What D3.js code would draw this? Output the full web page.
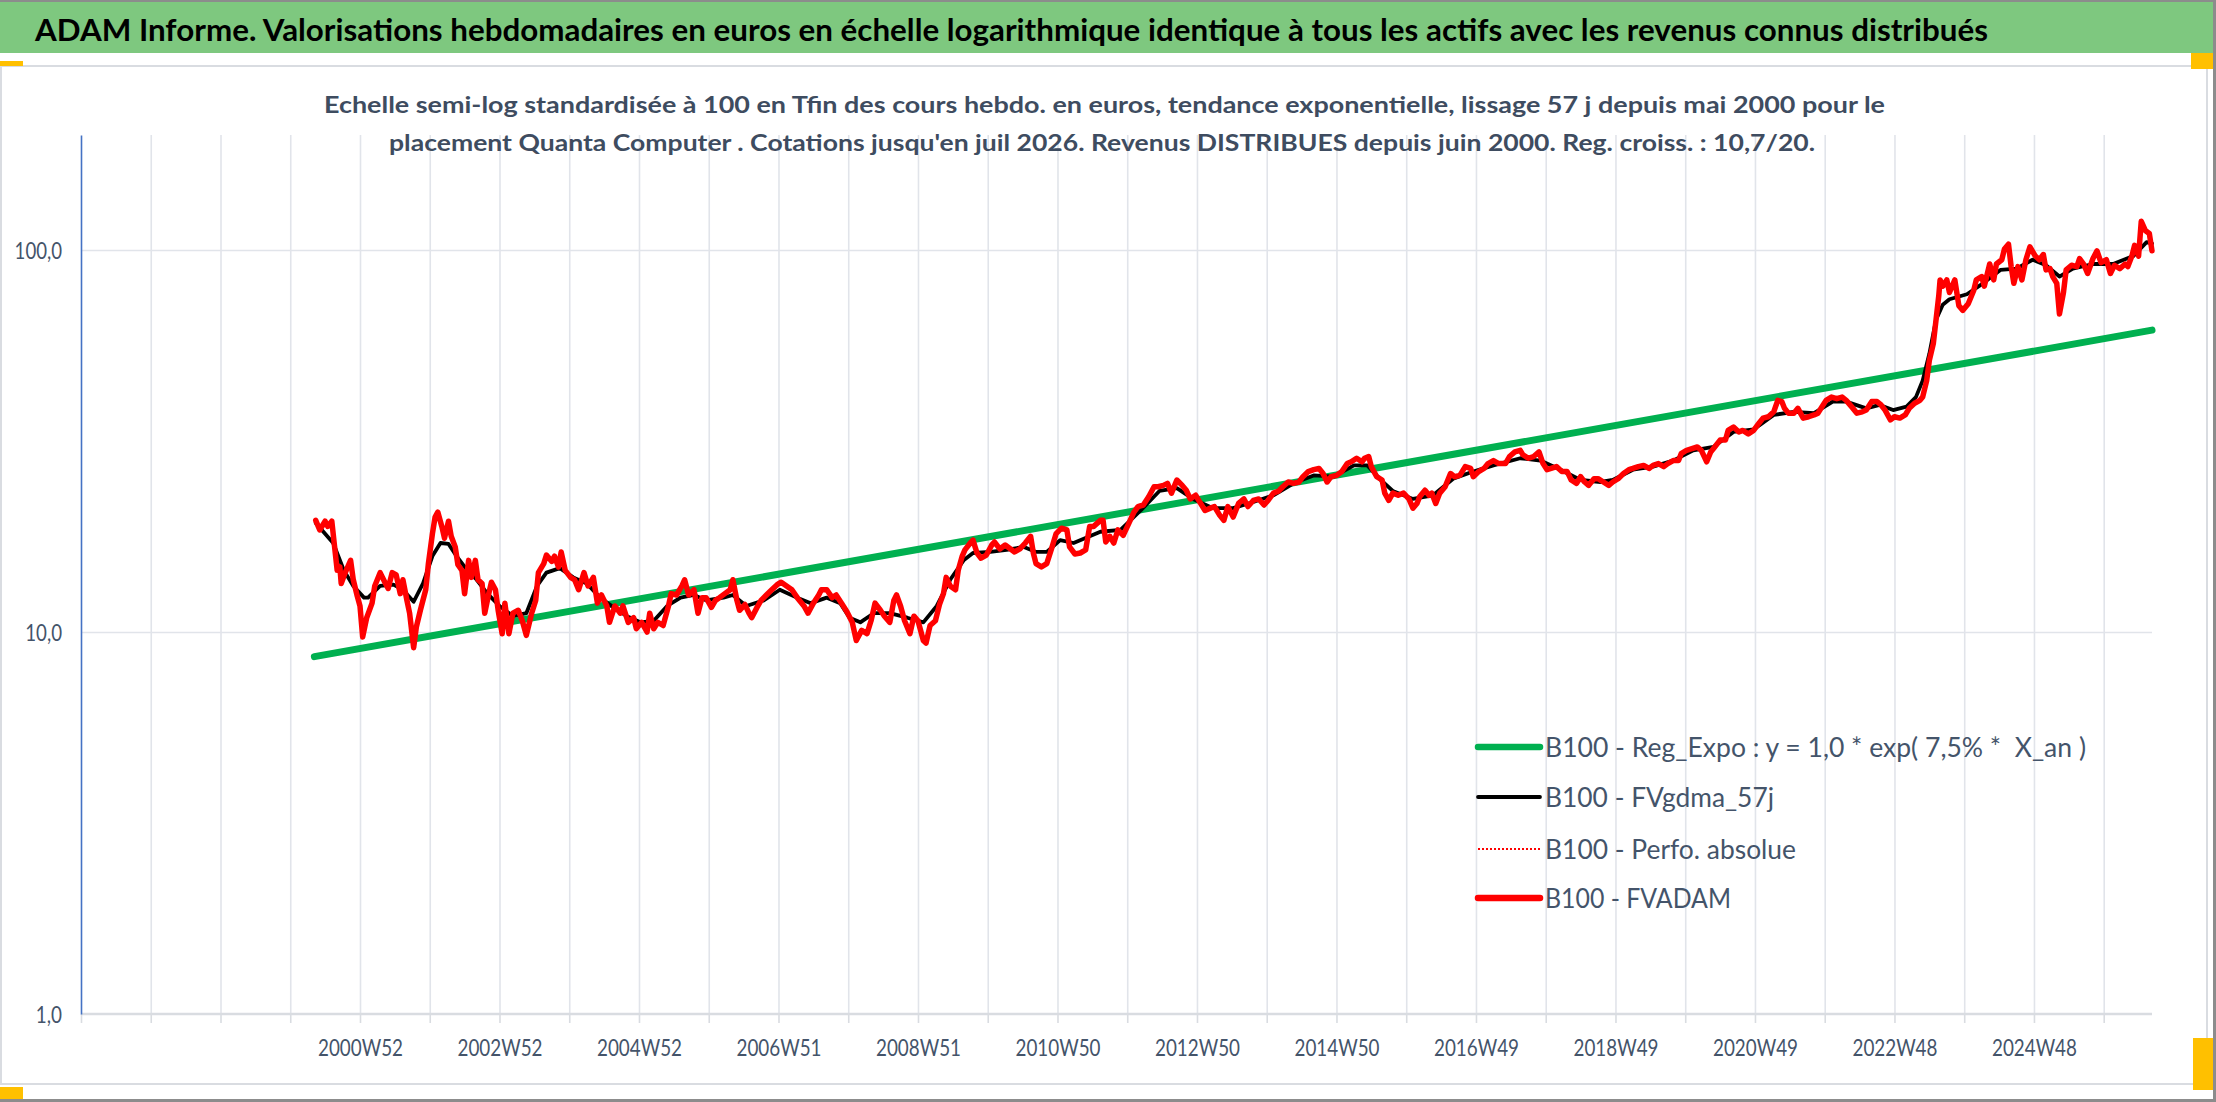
<!DOCTYPE html>
<html><head><meta charset="utf-8">
<script src="https://cdn.jsdelivr.net/npm/d3@7"></script>
<style>
html,body{margin:0;padding:0;background:#fff;}
svg{display:block;}
text{white-space:pre;}
</style></head><body>
<svg id="c" width="2216" height="1102"></svg>
<script>
// ---------------- DATA ----------------
const titleText = "ADAM Informe. Valorisations hebdomadaires en euros en échelle logarithmique identique à tous les actifs avec les revenus connus distribués";
const subtitleLines = [
  "Echelle semi-log standardisée à 100 en Tfin des cours hebdo. en euros, tendance exponentielle, lissage 57 j depuis mai 2000 pour le",
  "placement Quanta Computer . Cotations jusqu'en juil 2026. Revenus DISTRIBUES depuis juin 2000. Reg. croiss. : 10,7/20."
];
const seriesNames = [
  "B100 - Reg_Expo : y = 1,0 * exp( 7,5% *  X_an )",
  "B100 - FVgdma_57j",
  "B100 - Perfo. absolue",
  "B100 - FVADAM"
];
// weekly categories (index 0 = first category of the axis, ~1996W52)
const weekCount = 1544;
const weeksPerTick = 52;
const xTickLabels = ["2000W52","2002W52","2004W52","2006W51","2008W51","2010W50","2012W50","2014W50","2016W49","2018W49","2020W49","2022W48","2024W48"];
const xFirstLabelWeek = 208;
const xLabelStepWeeks = 104;
const yTickValues = [1, 10, 100];
const yTickLabels = ["1,0", "10,0", "100,0"];

// [week index, value]
const regExpo = [[174, 8.62], [1544, 61.7]];

const fvgdma = [[175,19.3],[188,17.1],[196,14.5],[203,13.2],[211,12.3],[214,12.3],[223,13.2],[233,13.3],[240,12.9],[248,12.0],[255,13.4],[262,15.8],[268,17.1],[274,17.0],[280,15.8],[288,14.5],[295,13.7],[303,12.6],[312,11.7],[322,11.0],[332,11.2],[340,13.2],[347,14.3],[357,14.7],[367,13.9],[377,13.4],[387,12.3],[397,11.6],[407,11.0],[417,10.6],[427,10.7],[437,11.7],[447,12.3],[457,12.5],[466,12.1],[479,12.3],[486,12.5],[496,11.7],[509,12.1],[521,12.9],[534,12.3],[544,11.9],[556,12.3],[566,11.9],[573,10.9],[581,10.6],[591,11.2],[603,11.2],[616,10.9],[628,10.6],[638,11.7],[648,13.7],[658,15.4],[665,16.1],[678,16.2],[690,16.4],[703,16.7],[712,16.2],[720,16.2],[730,17.4],[740,17.1],[752,17.8],[760,18.3],[775,18.5],[790,20.8],[804,23.4],[817,23.8],[829,22.3],[844,21.1],[859,21.1],[874,21.9],[889,22.8],[904,24.5],[919,25.7],[934,25.5],[949,27.3],[959,27.3],[969,25.0],[978,23.4],[993,22.3],[1008,22.8],[1023,25.2],[1038,26.3],[1053,27.3],[1073,28.5],[1088,28.1],[1103,26.6],[1118,25.0],[1133,24.7],[1142,25.0],[1157,26.6],[1172,27.1],[1187,28.1],[1202,29.9],[1217,30.5],[1232,33.4],[1247,33.9],[1262,37.0],[1277,37.7],[1292,37.4],[1306,40.1],[1316,40.1],[1331,38.5],[1341,39.3],[1351,38.1],[1361,38.9],[1368,41.2],[1373,45.5],[1378,53.5],[1383,65.7],[1388,71.9],[1393,74.3],[1406,76.6],[1418,81.8],[1431,88.7],[1443,89.4],[1455,94.3],[1465,91.2],[1475,85.2],[1485,89.4],[1500,91.9],[1515,91.9],[1530,96.4],[1540,104.9],[1544,104.0]];

const fvadam = [[175,19.6],[178,18.5],[182,19.5],[184,18.9],[187,19.5],[189,16.8],[191,14.5],[193,14.8],[194,13.4],[197,14.3],[201,15.4],[203,13.7],[206,12.4],[208,11.7],[210,9.7],[213,10.9],[217,11.9],[219,13.2],[223,14.3],[227,13.4],[229,13.0],[232,14.3],[235,14.1],[238,12.6],[240,13.7],[243,12.1],[245,11.2],[248,9.1],[250,10.3],[253,11.4],[257,12.9],[259,15.1],[262,18.1],[264,20.0],[266,20.6],[269,18.9],[271,17.6],[274,19.5],[276,17.8],[279,16.7],[281,15.0],[284,14.5],[286,12.6],[289,15.4],[291,13.9],[294,15.4],[296,13.7],[299,13.4],[301,11.2],[304,12.6],[306,13.5],[309,12.9],[311,11.4],[314,9.9],[316,11.9],[319,9.9],[322,11.2],[326,11.4],[329,10.7],[332,9.8],[336,11.2],[339,12.1],[341,14.3],[345,15.1],[347,15.9],[351,15.3],[353,15.8],[356,14.8],[358,16.2],[361,14.5],[365,13.9],[368,13.7],[371,12.9],[375,14.3],[378,13.2],[382,13.9],[385,11.9],[388,12.5],[392,11.7],[394,10.6],[398,11.7],[402,11.2],[404,11.7],[408,10.6],[412,10.9],[414,10.2],[418,10.6],[422,10.0],[424,11.2],[427,10.2],[430,10.6],[434,10.4],[438,11.7],[440,12.6],[444,12.5],[448,13.2],[450,13.7],[453,12.5],[457,12.9],[460,11.2],
[463,12.3],[466,12.3],[470,11.6],[473,12.1],[476,12.3],[480,12.6],[484,12.9],[486,13.7],[489,12.1],[491,11.4],[495,11.8],[498,11.2],[500,10.9],[504,11.6],[507,12.1],[511,12.5],[515,12.9],[519,13.3],[522,13.5],[526,13.2],[530,12.9],[534,12.3],[539,11.7],[542,11.2],[546,11.9],[550,12.5],[552,12.9],[556,12.9],[560,12.3],[563,12.5],[567,11.9],[571,11.3],[575,10.6],[578,9.5],[582,10.1],[586,9.9],[589,10.7],[592,11.9],[596,11.4],[599,11.0],[603,10.6],[606,12.1],[608,12.5],[611,11.7],[614,10.7],[618,9.9],[621,11.0],[624,10.7],[628,9.5],[630,9.35],[633,10.4],[637,10.7],[640,11.8],[643,12.6],[645,13.9],[648,13.2],[652,12.9],[654,14.5],[657,15.8],[659,16.4],[663,17.1],[665,17.4],[668,16.1],[671,15.6],[675,15.9],[679,16.9],[681,17.2],[685,16.5],[689,16.9],[693,16.5],[696,16.2],[700,16.5],[704,17.1],[708,17.8],[710,16.1],[712,15.1],[716,14.8],[720,15.1],[724,16.7],[727,18.1],[731,18.7],[735,18.5],[737,16.7],[741,16.0],[745,16.1],[749,16.4],[752,18.9],
[755,18.9],[760,19.6],[762,19.6],[764,17.2],[767,17.8],[770,17.1],[773,18.5],[777,17.9],[781,19.2],[785,20.6],[788,21.3],[792,21.5],[796,22.6],[800,24.0],[803,24.0],[807,24.2],[810,24.5],[813,23.1],[817,25.0],[821,24.2],[824,23.5],[827,22.3],[831,22.8],[834,21.9],[838,20.8],[842,21.1],[845,21.3],[849,20.2],[852,19.6],[855,21.3],[859,20.0],[863,21.7],[867,22.3],[870,21.3],[874,22.1],[878,22.3],[882,21.5],[885,22.1],[889,23.1],[893,23.4],[896,24.0],[900,24.7],[904,24.5],[908,24.7],[911,25.5],[915,26.3],[919,26.6],[923,26.8],[926,26.0],[929,24.7],[932,25.5],[936,25.7],[940,26.3],[944,27.6],[947,27.9],[951,28.5],[955,27.9],[957,28.5],[960,28.8],[962,27.1],[966,25.5],[970,25.0],[972,23.1],[975,22.1],[978,23.1],[982,22.8],[986,23.1],[990,22.3],[993,21.1],[996,21.7],[998,22.6],[1002,23.5],[1005,22.8],[1007,23.1],[1010,21.7],[1013,23.1],[1017,24.0],[1021,26.0],[1024,25.5],[1028,25.7],[1032,27.1],[1036,26.8],[1038,25.5],[1042,26.3],[1046,26.8],[1049,27.6],[1053,28.1],[1057,27.6],
[1062,27.6],[1065,28.8],[1069,29.6],[1073,29.9],[1075,29.1],[1079,28.5],[1083,28.8],[1087,29.6],[1090,27.6],[1093,26.6],[1096,26.8],[1100,27.1],[1104,26.3],[1108,26.3],[1111,25.0],[1115,24.5],[1118,25.5],[1121,24.7],[1124,24.2],[1128,25.2],[1131,25.2],[1135,24.7],[1139,24.2],[1142,24.7],[1146,25.2],[1150,26.0],[1154,26.6],[1157,26.8],[1161,27.1],[1165,27.3],[1169,26.8],[1172,27.3],[1176,27.6],[1180,27.1],[1183,27.6],[1187,28.1],[1191,28.1],[1193,29.3],[1197,29.9],[1201,30.2],[1205,30.5],[1208,29.9],[1212,27.9],[1215,29.6],[1218,30.5],[1222,31.8],[1226,31.8],[1228,33.7],[1232,34.4],[1236,33.4],[1239,33.7],[1243,33.0],[1247,33.7],[1251,35.2],[1254,36.3],[1258,36.6],[1262,37.7],[1265,40.4],[1268,40.1],[1270,38.5],[1273,37.4],[1277,37.4],[1280,38.5],[1284,36.3],[1288,36.6],[1292,37.0],[1295,37.4],[1298,38.9],[1301,40.4],[1305,41.2],[1309,40.8],[1313,41.2],[1316,40.4],[1320,38.9],[1324,37.4],[1328,37.7],[1331,38.1],[1335,40.1],[1339,40.1],[1342,39.3],[1345,38.1],[1349,35.9],[1352,36.6],[1356,36.3],
[1360,37.0],[1363,38.5],[1367,39.7],[1371,40.4],[1373,41.2],[1376,45.5],[1378,51.4],[1381,57.0],[1383,65.7],[1385,75.7],[1386,83.5],[1388,80.4],[1391,83.5],[1393,77.4],[1397,83.5],[1400,71.5],[1403,69.5],[1407,72.3],[1411,78.2],[1413,83.5],[1417,85.2],[1419,80.4],[1423,91.9],[1426,83.5],[1428,91.9],[1432,94.3],[1434,100.6],[1437,103.6],[1439,90.5],[1441,81.8],[1444,90.5],[1447,83.5],[1450,94.3],[1453,101.9],[1457,96.4],[1460,94.3],[1463,97.3],[1465,88.7],[1468,89.4],[1470,85.2],[1473,81.8],[1475,68.0],[1478,77.4],[1480,88.7],[1484,91.2],[1488,90.5],[1490,95.0],[1493,91.9],[1496,86.8],[1500,95.0],[1503,99.5],[1506,92.7],[1510,94.3],[1513,86.8],[1516,91.2],[1520,89.4],[1524,91.9],[1526,90.5],[1529,96.4],[1531,102.8],[1534,96.4],[1536,118.9],[1539,112.5],[1542,110.5],[1544,99.5]];

// ---------------- DRAW ----------------
const FONT = "Lato, 'Open Sans', 'DejaVu Sans', sans-serif";
const TXT = "#44546A";
const svg = d3.select("#c");

// outer frame
svg.append("rect").attr("x",0).attr("y",0).attr("width",2216).attr("height",1102).attr("fill","#fff");
svg.append("rect").attr("x",0).attr("y",0).attr("width",2213).attr("height",53).attr("fill","#7EC87F");
svg.append("rect").attr("x",0).attr("y",0).attr("width",2216).attr("height",2).attr("fill","#8c8c8c");
svg.append("rect").attr("x",2213).attr("y",0).attr("width",3).attr("height",1102).attr("fill","#8c8c8c");
svg.append("rect").attr("x",0).attr("y",1099).attr("width",2216).attr("height",3).attr("fill","#8c8c8c");
// chart area
svg.append("rect").attr("x",1).attr("y",66).attr("width",2206).attr("height",1018)
   .attr("fill","#fff").attr("stroke","#D9DCE1").attr("stroke-width",2);
// selection handles
const handles = [[0,61,23,5],[2191,53,22,16],[0,1087,23,12],[2193,1038,20,52]];
svg.selectAll("rect.h").data(handles).enter().append("rect").attr("class","h")
   .attr("x",d=>d[0]).attr("y",d=>d[1]).attr("width",d=>d[2]).attr("height",d=>d[3]).attr("fill","#FFC000");

// title
svg.append("text").attr("x",35).attr("y",41).attr("font-family",FONT).attr("font-size",31)
   .attr("font-weight","bold").attr("fill","#000").attr("textLength",1953).attr("lengthAdjust","spacingAndGlyphs")
   .text(titleText);

// scales
const L = 81, R = 2152, B = 1014, DEC = 382;
const x = d3.scaleLinear().domain([0, weekCount]).range([L, R]);
const y = d3.scaleLog().domain([1, 200]).range([B, B - DEC*Math.log10(200)]);
const T = y(200);

// grid
const tickWeeks = d3.range(0, weekCount, weeksPerTick);
const g = svg.append("g");
g.append("g").attr("transform",`translate(0,${B})`)
  .call(d3.axisBottom(x).tickValues(tickWeeks.slice(1)).tickSize(-(B - T)).tickFormat(""))
  .call(s=>{ s.select(".domain").remove(); s.selectAll("line").attr("stroke","#E1E4EA").attr("stroke-width",1.6); });
g.append("g").attr("transform",`translate(${L},0)`)
  .call(d3.axisLeft(y).tickValues([10,100]).tickSize(-(R - L)).tickFormat(""))
  .call(s=>{ s.select(".domain").remove(); s.selectAll("line").attr("stroke","#E1E4EA").attr("stroke-width",1.6); });

// x axis
const labelMap = new Map(xTickLabels.map((t,i)=>[xFirstLabelWeek + i*xLabelStepWeeks, t]));
const xa = svg.append("g").attr("transform",`translate(0,${B})`)
  .call(d3.axisBottom(x).tickValues(tickWeeks).tickSize(9).tickFormat(d=>labelMap.get(d) || ""));
xa.select(".domain").attr("stroke","#D9DCE1").attr("stroke-width",2.5).attr("d",`M${L},0H${R}`);
xa.selectAll(".tick line").attr("stroke","#D9DCE1").attr("stroke-width",1.6);
xa.selectAll(".tick text").attr("y",42).attr("dy",0).attr("fill",TXT)
  .attr("font-family",FONT).attr("font-size",22.5)
  .each(function(d){ if(labelMap.has(d)) d3.select(this).attr("textLength",85).attr("lengthAdjust","spacingAndGlyphs"); });

// y axis
const ya = svg.append("g").attr("transform",`translate(${L},0)`)
  .call(d3.axisLeft(y).tickValues(yTickValues).tickSize(0).tickFormat((d,i)=>yTickLabels[i]));
ya.select(".domain").attr("stroke","#4472C4").attr("stroke-width",1.6);
ya.selectAll(".tick text").attr("x",-19).attr("dy","0.36em").attr("fill",TXT)
  .attr("font-family",FONT).attr("font-size",22.5).attr("text-anchor","end")
  .each(function(d,i){ const s=yTickLabels[i]; const n=s.replace(",","").length; d3.select(this).attr("textLength",10.6*n+5).attr("lengthAdjust","spacingAndGlyphs"); });

// subtitle (on top of gridlines)
const subBoxes = [[324,113,1561],[389,151,1426]];
subtitleLines.forEach((t,i)=>{
  svg.append("text").attr("x",subBoxes[i][0]).attr("y",subBoxes[i][1]).attr("font-family",FONT)
    .attr("font-size",23).attr("font-weight","bold").attr("fill","#3E4C60")
    .attr("textLength",subBoxes[i][2]).attr("lengthAdjust","spacingAndGlyphs").text(t);
});

// series
const line = d3.line().x(d=>x(d[0])).y(d=>y(d[1]));
const plot = svg.append("g").attr("fill","none").attr("stroke-linejoin","round").attr("stroke-linecap","round");
plot.append("path").datum(regExpo).attr("d",line).attr("stroke","#00B050").attr("stroke-width",7);
plot.append("path").datum(fvgdma).attr("d",line).attr("stroke","#000").attr("stroke-width",3.8);
plot.append("path").datum(fvadam).attr("d",line).attr("stroke","#FF0000").attr("stroke-width",5.5);

// legend
const legY = [747, 797, 849, 898];
const legStyles = [
  {c:"#00B050", w:6.5, dash:null},
  {c:"#000000", w:3.8, dash:null},
  {c:"#FF0000", w:2, dash:"2,2"},
  {c:"#FF0000", w:6.5, dash:null}
];
const legW = [541, 229, 251, 186];
const lg = svg.append("g");
seriesNames.forEach((n,i)=>{
  const st = legStyles[i];
  const ln = lg.append("line").attr("x1",1478).attr("x2",1540).attr("y1",legY[i]).attr("y2",legY[i])
    .attr("stroke",st.c).attr("stroke-width",st.w).attr("stroke-linecap", st.dash? "butt":"round");
  if(st.dash) ln.attr("stroke-dasharray",st.dash);
  lg.append("text").attr("x",1545).attr("y",legY[i]+10).attr("font-family",FONT).attr("font-size",27)
    .attr("fill",TXT).attr("textLength",legW[i]).attr("lengthAdjust","spacingAndGlyphs").text(n);
});
</script>
</body></html>
